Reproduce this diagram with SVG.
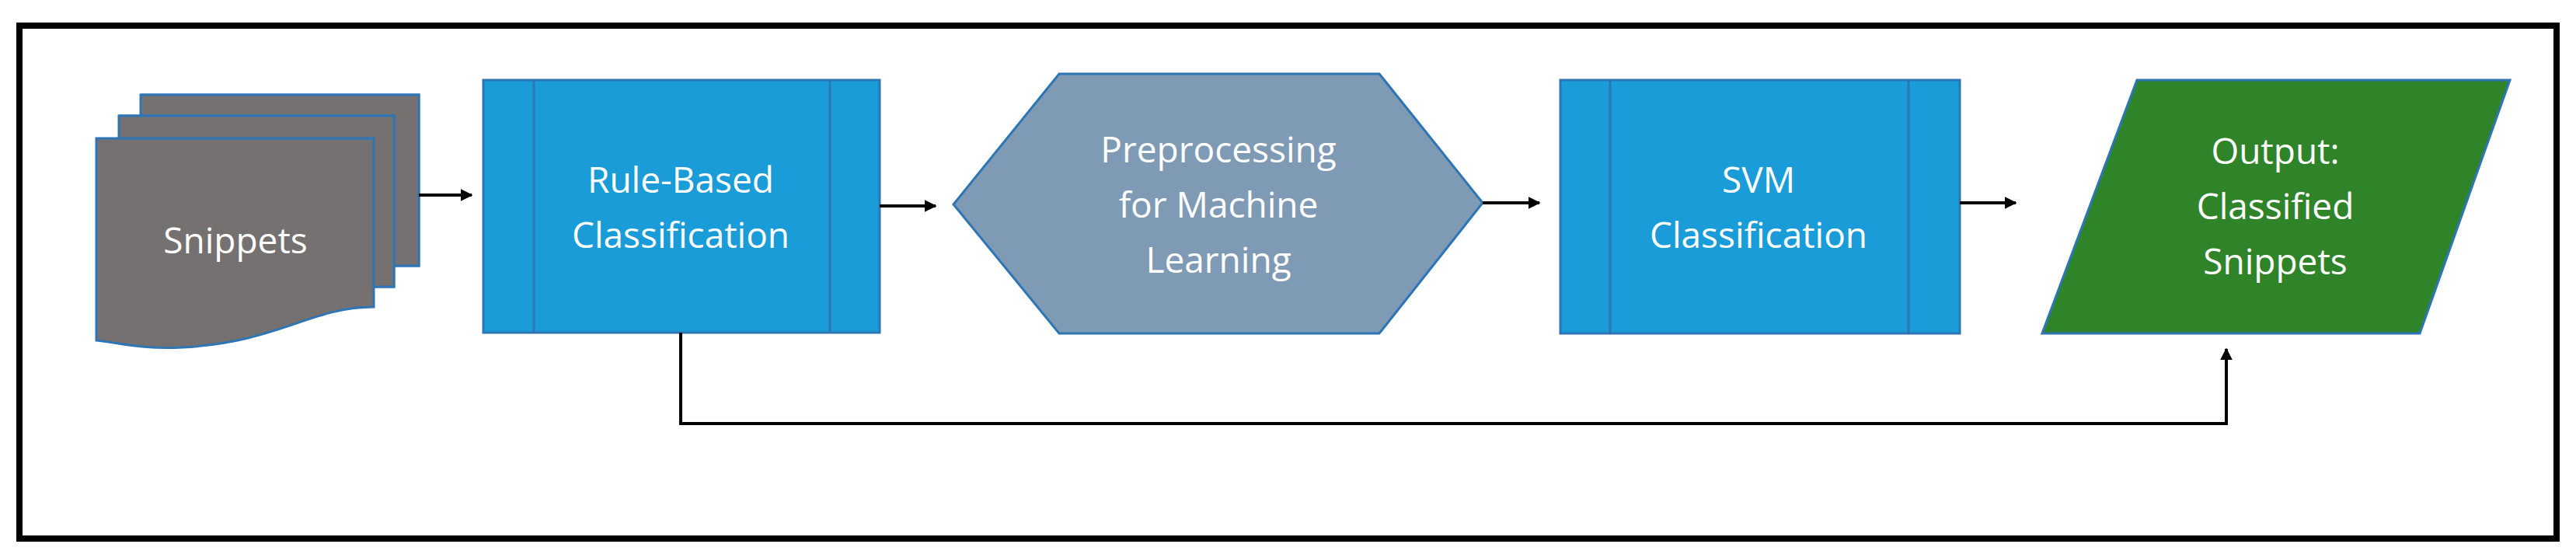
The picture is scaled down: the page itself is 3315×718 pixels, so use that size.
<svg xmlns="http://www.w3.org/2000/svg" width="3315" height="718" viewBox="0 0 3315 718">
<style>
.t{font-family:"Open Sans","Liberation Sans",sans-serif;font-size:46px;fill:#fff;text-anchor:middle}
.doc{fill:#767171;stroke:#2e75b6;stroke-width:3}
.proc{fill:#1a9cd8;stroke:#2e75b6;stroke-width:3}
.c{fill:none;stroke:#000;stroke-width:4}
</style>
<defs><marker id="a" viewBox="0 0 10 10" refX="9" refY="5" markerWidth="4" markerHeight="4" orient="auto"><path d="M0,0L10,5L0,10z" fill="#000"/></marker></defs>
<rect x="25" y="33" width="3265" height="660" fill="#fff" stroke="#000" stroke-width="8"/>
<g id="snippets">
<path class="doc" d="M181,122H539V342H507V122Z"/>
<path class="doc" d="M153,149H507V369H481V149Z"/>
<path class="doc" d="M124,178H481V395C400,395 360,440 235,447C180,450 150,440 124,438Z"/>
<path class="doc" d="M181,122H539V342H507V149H181Z"/>
<path class="doc" d="M153,149H507V369H481V178H153Z"/>
<text class="t" x="303" y="326">Snippets</text>
</g>
<g id="rule">
<rect class="proc" x="622" y="103" width="510" height="325"/>
<line x1="687" y1="103" x2="687" y2="428" stroke="#2e75b6" stroke-width="3"/>
<line x1="1068" y1="103" x2="1068" y2="428" stroke="#2e75b6" stroke-width="3"/>
<text class="t" x="876" y="248">Rule-Based</text>
<text class="t" x="876" y="319">Classification</text>
</g>
<g id="prep">
<path d="M1227,263L1363,95H1775L1908,261L1775,429H1363Z" fill="#7f9ab5" stroke="#2e75b6" stroke-width="3"/>
<text class="t" x="1568" y="209">Preprocessing</text>
<text class="t" x="1568" y="280">for Machine</text>
<text class="t" x="1568" y="351">Learning</text>
</g>
<g id="svm">
<rect class="proc" x="2008" y="103" width="514" height="326"/>
<line x1="2072" y1="103" x2="2072" y2="429" stroke="#2e75b6" stroke-width="3"/>
<line x1="2456" y1="103" x2="2456" y2="429" stroke="#2e75b6" stroke-width="3"/>
<text class="t" x="2263" y="248">SVM</text>
<text class="t" x="2263" y="319">Classification</text>
</g>
<g id="output">
<path d="M2750,103H3230L3114,429H2628Z" fill="#2f8429" stroke="#2e75b6" stroke-width="3"/>
<text class="t" x="2928" y="211">Output:</text>
<text class="t" x="2928" y="282">Classified</text>
<text class="t" x="2928" y="353">Snippets</text>
</g>
<g id="connectors">
<line class="c" x1="539" y1="251" x2="607" y2="251" marker-end="url(#a)"/>
<line class="c" x1="1132" y1="265" x2="1204" y2="265" marker-end="url(#a)"/>
<line class="c" x1="1908" y1="261" x2="1981" y2="261" marker-end="url(#a)"/>
<line class="c" x1="2522" y1="261" x2="2594" y2="261" marker-end="url(#a)"/>
<path class="c" d="M876,428V545H2865V449" marker-end="url(#a)"/>
</g>
</svg>
